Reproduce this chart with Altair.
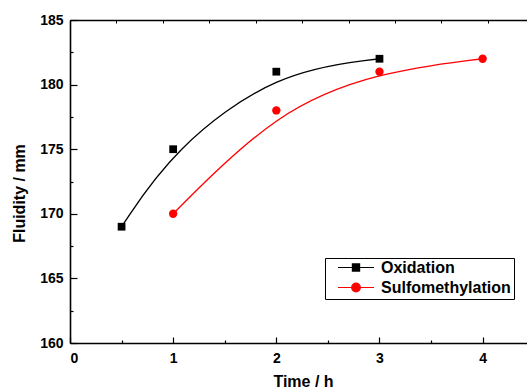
import altair as alt
import pandas as pd

# ---- data ----
series_names = ["Oxidation", "Sulfomethylation"]
series_colors = ["#000000", "#FF0000"]

ox_time = [0.5, 1, 2, 3]
ox_fluidity = [169, 175, 181, 182]

sm_time = [1, 2, 3, 4]
sm_fluidity = [170, 178, 181, 182]

x_major = [0, 1, 2, 3, 4]
x_minor = [0.5, 1.5, 2.5, 3.5]
x_top_ticks = [0, 0.45, 0.9, 1.35, 1.8, 2.25, 2.7, 3.15, 3.6, 4.05]
y_major = [160, 165, 170, 175, 180, 185]
y_minor = [162.5, 167.5, 172.5, 177.5, 182.5]

df = pd.DataFrame({
    "time": ox_time + sm_time,
    "fluidity": ox_fluidity + sm_fluidity,
    "series": [series_names[0]] * len(ox_time) + [series_names[1]] * len(sm_time),
})

FONT = "Liberation Sans"

x_scale = alt.Scale(domain=[0, 4.43], nice=False, zero=False)
y_scale = alt.Scale(domain=[160, 185], nice=False, zero=False)


def tick_axis(orient, values, size):
    # ticks drawn inward: axis shifted into the plot by the tick length
    return alt.Axis(orient=orient, values=values, title=None, labels=False, grid=False,
                    domain=False, ticks=True, tickSize=size, offset=-size,
                    tickColor="black", tickWidth=1.2)


y_label_axis = alt.Axis(
    orient="left", values=y_major, title="Fluidity / mm", grid=False, ticks=False, tickSize=0,
    labelOverlap=False, labelFont=FONT, labelFontSize=14, labelFontWeight="bold",
    labelColor="black", labelPadding=7,
    domainColor="black", domainWidth=1.6,
    titleFont=FONT, titleFontSize=16, titleFontWeight="bold", titleColor="black",
    titleAngle=270, titleX=-51, titleY=173, titleAlign="center", titleBaseline="middle",
)

x_label_axis = alt.Axis(
    orient="bottom", values=x_major, title="Time / h", grid=False, ticks=False, tickSize=0,
    labelOverlap=False, labelFont=FONT, labelFontSize=14, labelFontWeight="bold",
    labelColor="black", labelPadding=8,
    domainColor="black", domainWidth=1.6,
    titleFont=FONT, titleFontSize=16, titleFontWeight="bold", titleColor="black",
    titleX=233, titleY=38, titleAlign="center", titleBaseline="middle",
)

x_top_domain = alt.Axis(orient="top", title=None, labels=False, ticks=False, grid=False,
                        domainColor="black", domainWidth=1.6)
x_top_ticks_axis = alt.Axis(orient="top", values=x_top_ticks, title=None, labels=False,
                            grid=False, domain=False, tickSize=3, offset=-3,
                            tickColor="black", tickWidth=1)

# legend symbols: line with marker
sq_path = "M-1,0L1,0M-0.2,-0.2L0.2,-0.2L0.2,0.2L-0.2,0.2Z"
ci_path = "M-1,0L1,0M-0.24,0A0.24,0.24,0,1,0,0.24,0A0.24,0.24,0,1,0,-0.24,0Z"

legend = alt.Legend(
    orient="none", legendX=255, legendY=238, title=None,
    symbolSize=1296, clipHeight=13, rowPadding=3, padding=3,
    strokeColor="black", fillColor="white",
    symbolOffset=9, labelOffset=6, symbolStrokeWidth=1.2, symbolOpacity=1,
    labelFont=FONT, labelFontSize=16, labelFontWeight="bold", labelColor="black",
)

color_scale = alt.Scale(domain=series_names, range=series_colors)

base = alt.Chart(df)
ox = base.transform_filter(alt.datum.series == series_names[0])
sm = base.transform_filter(alt.datum.series == series_names[1])

curve_ox = ox.mark_line(strokeWidth=1.3, interpolate="basis", color=series_colors[0]).encode(
    x=alt.X("time:Q", scale=x_scale, axis=x_label_axis),
    y=alt.Y("fluidity:Q", scale=y_scale, axis=y_label_axis),
)

curve_sm = sm.mark_line(strokeWidth=1.3, interpolate="basis", color=series_colors[1]).encode(
    x=alt.X("time:Q", scale=x_scale, axis=None),
    y=alt.Y("fluidity:Q", scale=y_scale, axis=None),
)

ox_points = ox.mark_point(
    filled=True, shape="square", size=60, color=series_colors[0], opacity=1
).encode(
    x=alt.X("time:Q", scale=x_scale, axis=tick_axis("bottom", x_major, 6)),
    y=alt.Y("fluidity:Q", scale=y_scale, axis=tick_axis("left", y_major, 7)),
)

sm_points = sm.mark_point(
    filled=True, shape="circle", size=70, color=series_colors[1], opacity=1
).encode(
    x=alt.X("time:Q", scale=x_scale, axis=tick_axis("bottom", x_minor, 3)),
    y=alt.Y("fluidity:Q", scale=y_scale, axis=tick_axis("left", y_minor, 3)),
)

# layer that only carries the legend (its own marks are pushed off the canvas)
legend_layer = base.mark_point(filled=True, strokeWidth=1.2, opacity=1, xOffset=-5000).encode(
    x=alt.X("time:Q", scale=x_scale, axis=x_top_domain),
    y=alt.Y("fluidity:Q", scale=y_scale, axis=None),
    color=alt.Color("series:N", scale=color_scale, legend=legend),
    stroke=alt.Stroke("series:N", scale=color_scale, legend=legend),
    shape=alt.Shape("series:N", scale=alt.Scale(domain=series_names, range=[sq_path, ci_path]),
                    legend=legend),
)

top_ticks_layer = base.mark_point(xOffset=-5000).encode(
    x=alt.X("time:Q", scale=x_scale, axis=x_top_ticks_axis),
    y=alt.Y("fluidity:Q", scale=y_scale, axis=None),
)

chart = alt.layer(
    curve_ox, curve_sm, ox_points, sm_points, legend_layer, top_ticks_layer
).resolve_axis(
    x="independent", y="independent"
).properties(
    width=457, height=323,
    autosize=alt.AutoSizeParams(type="none"),
    padding={"left": 70, "top": 20, "right": 0, "bottom": 47},
).configure_view(stroke=None)

chart.save("out.html", embed_options={"renderer": "svg", "actions": False})
